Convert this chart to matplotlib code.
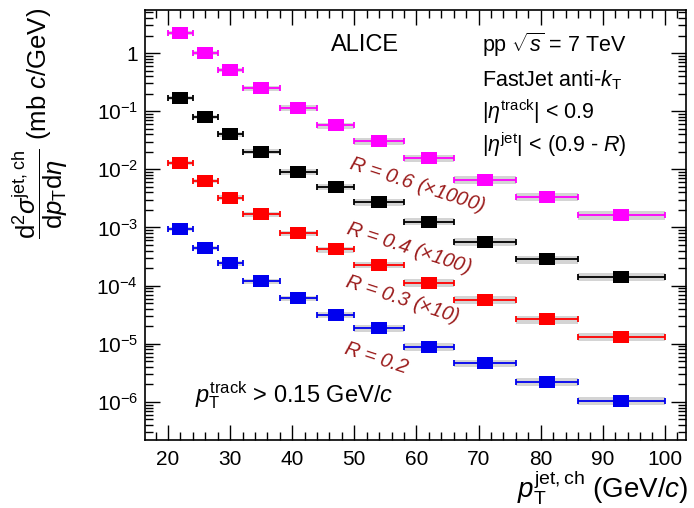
import matplotlib
matplotlib.use("Agg")
import matplotlib.pyplot as plt
from matplotlib.ticker import FixedLocator, MultipleLocator, LogLocator, NullFormatter

plt.rcParams['font.family'] = ['Liberation Sans', 'DejaVu Sans']
plt.rcParams['mathtext.fontset'] = 'custom'
plt.rcParams['mathtext.rm'] = 'Liberation Sans'
plt.rcParams['mathtext.it'] = 'Liberation Sans:italic'
plt.rcParams['mathtext.bf'] = 'Liberation Sans:bold'

# ---- data ----
bin_lo = [20, 24, 28, 32, 38, 44, 50, 58, 66, 76, 86]
bin_hi = [24, 28, 32, 38, 44, 50, 58, 66, 76, 86, 100]
bin_center = [22, 26, 30, 35, 41, 47, 54, 62, 71, 81, 93]

r06_x1000 = [2.23, 1.01, 0.51, 0.247, 0.115, 0.057, 0.0307, 0.0155, 0.00656, 0.00339, 0.00164]
r04_x100 = [0.166, 0.0785, 0.040, 0.0201, 0.0091, 0.0050, 0.00271, 0.00126, 5.7e-4, 2.84e-4, 1.43e-4]
r03_x10 = [0.013, 0.00638, 0.00326, 0.0017, 7.9e-4, 4.2e-4, 2.27e-4, 1.12e-4, 5.67e-5, 2.64e-5, 1.33e-5]
r02 = [9.3e-4, 4.4e-4, 2.43e-4, 1.2e-4, 6.07e-5, 3.13e-5, 1.85e-5, 8.9e-6, 4.63e-6, 2.24e-6, 1.05e-6]

sys_frac = [0.08, 0.08, 0.09, 0.10, 0.11, 0.12, 0.13, 0.14, 0.15, 0.16, 0.17]

series = [
    ("R = 0.6 (x1000)", r06_x1000, "#ff00ff"),
    ("R = 0.4 (x100)", r04_x100, "#000000"),
    ("R = 0.3 (x10)", r03_x10, "#ff0000"),
    ("R = 0.2", r02, "#0000ee"),
]

ytick_vals = [1, 1e-1, 1e-2, 1e-3, 1e-4, 1e-5, 1e-6]
ytick_labels = ['1', r'$10^{-1}$', r'$10^{-2}$', r'$10^{-3}$', r'$10^{-4}$', r'$10^{-5}$', r'$10^{-6}$']
xtick_vals = [20, 30, 40, 50, 60, 70, 80, 90, 100]

fig = plt.figure(figsize=(6.94, 5.08), dpi=100)
ax = fig.add_axes([145/694, 68/508, 541/694, 430/508])
ax.set_yscale('log')

xerr_lo = [c - l for c, l in zip(bin_center, bin_lo)]
xerr_hi = [h - c for c, h in zip(bin_center, bin_hi)]
widths = [h - l for l, h in zip(bin_lo, bin_hi)]

# slightly wide square marker (reference is horizontally stretched)
rect_marker = [(-1.0, -0.76), (1.0, -0.76), (1.0, 0.76), (-1.0, 0.76), (-1.0, -0.76)]

for name, vals, col in series:
    bottoms = [v * (1 - s) for v, s in zip(vals, sys_frac)]
    heights = [2 * v * s for v, s in zip(vals, sys_frac)]
    ax.bar(bin_lo, heights, bottom=bottoms, width=widths, align='edge',
           color='#d4d4d4', edgecolor='none', zorder=1)
    ax.errorbar(bin_center, vals, xerr=[xerr_lo, xerr_hi], fmt='none', ecolor=col,
                elinewidth=1.3, capsize=2.5, capthick=1.3, zorder=2)
    ax.plot(bin_center, vals, linestyle='none', marker=rect_marker, markersize=12,
            color=col, markeredgewidth=0, zorder=3)

ax.set_xlim(16.3, 103.4)
ax.set_ylim(2.22e-7, 5.49)

ax.xaxis.set_major_locator(FixedLocator(xtick_vals))
ax.set_xticklabels([str(v) for v in xtick_vals])
ax.xaxis.set_minor_locator(MultipleLocator(2))
ax.yaxis.set_major_locator(FixedLocator(ytick_vals))
ax.set_yticklabels(ytick_labels)
ax.yaxis.set_minor_locator(LogLocator(base=10, subs=range(2, 10), numticks=20))
ax.yaxis.set_minor_formatter(NullFormatter())

ax.tick_params(which='both', direction='in', top=True, right=True, labelsize=15, width=1.0)
ax.tick_params(which='major', length=11, pad=5)
ax.tick_params(axis='x', which='major', pad=7)
ax.tick_params(which='minor', length=5.5)
for sp in ax.spines.values():
    sp.set_linewidth(1.2)

# texts
ax.text(0.407, 0.919, 'ALICE', transform=ax.transAxes, ha='center', va='center', fontsize=17)
ax.text(0.623, 0.919, r'pp $\sqrt{s}$ = 7 TeV', transform=ax.transAxes, ha='left', va='center', fontsize=15.5)
ax.text(0.623, 0.837, r'FastJet anti-$k_{\mathrm{T}}$', transform=ax.transAxes, ha='left', va='center', fontsize=15.5)
ax.text(0.623, 0.763, r'$|\eta^{\mathrm{track}}|$ < 0.9', transform=ax.transAxes, ha='left', va='center', fontsize=15.5)
ax.text(0.623, 0.686, r'$|\eta^{\mathrm{jet}}|$ < (0.9 - $R$)', transform=ax.transAxes, ha='left', va='center', fontsize=15.5)
ax.text(0.092, 0.105, r'$p_{\mathrm{T}}^{\mathrm{track}}$ > 0.15 GeV/$c$', transform=ax.transAxes,
        ha='left', va='center', fontsize=17)

lab_col = '#9b1c1c'
rot_labels = [
    (r'$R$ = 0.6 ($\times$1000)', 0.502, 0.593),
    (r'$R$ = 0.4 ($\times$100)', 0.487, 0.447),
    (r'$R$ = 0.3 ($\times$10)', 0.476, 0.326),
    (r'$R$ = 0.2', 0.428, 0.191),
]
for txt, x, y in rot_labels:
    ax.text(x, y, txt, transform=ax.transAxes, ha='center', va='center', rotation=-18,
            rotation_mode='anchor', color=lab_col, fontsize=14.5, style='italic')

fig.text(688/694, 0.041, r'$p_{\mathrm{T}}^{\mathrm{jet,ch}}$ (GeV/$c$)', ha='right', va='center', fontsize=20)
fig.text(0.058, 0.985, r'$\dfrac{\mathrm{d}^{2}\sigma^{\mathrm{jet,ch}}}{\mathrm{d}p_{\mathrm{T}}\mathrm{d}\eta}$ (mb $c$/GeV)',
         rotation=90, ha='center', va='top', fontsize=18.5)

fig.savefig('out.png', dpi=100)
